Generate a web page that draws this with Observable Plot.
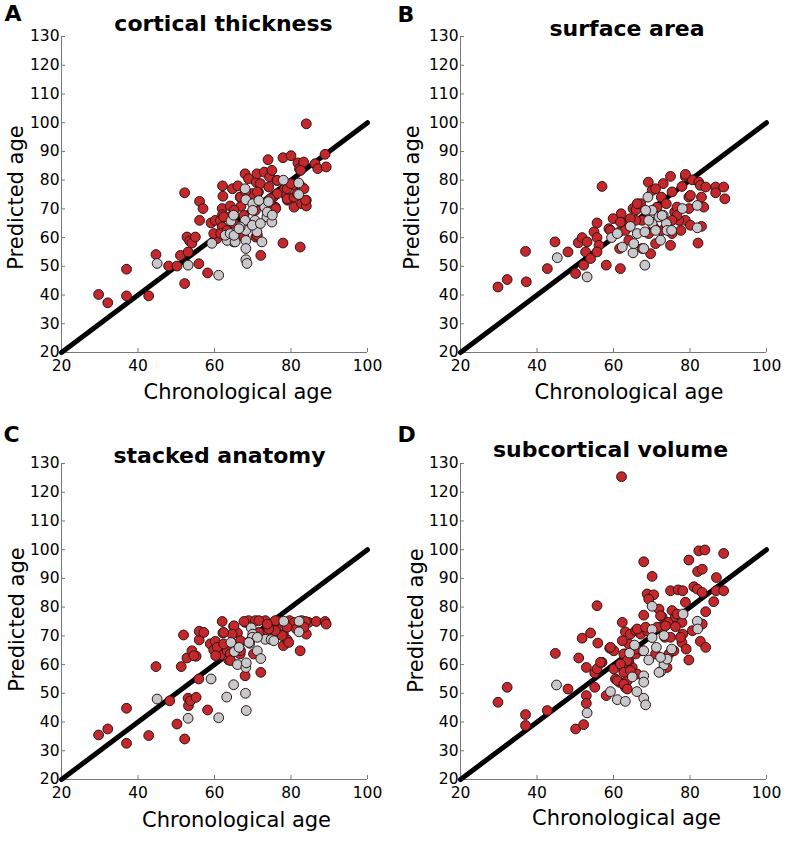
<!DOCTYPE html>
<html><head><meta charset="utf-8">
<script src="https://cdn.jsdelivr.net/npm/d3@7"></script>
<script src="https://cdn.jsdelivr.net/npm/@observablehq/plot@0.6"></script>
<style>
body{margin:0;background:#fff;}
#wrap{position:relative;width:791px;height:850px;overflow:hidden;background:#fff;}
#wrap > div{position:absolute;}
</style></head><body><div id="wrap"></div>
<script>
// ---- data: [chronological age, predicted age] ----
const xTicks = [20, 40, 60, 80, 100];
const yTicks = [20, 30, 40, 50, 60, 70, 80, 90, 100, 110, 120, 130];
const identity = [20, 100];
const panelLetters = ["A", "B", "C", "D"];
const panelTitles = ["cortical thickness", "surface area", "stacked anatomy", "subcortical volume"];
const xLabel = "Chronological age";
const yLabel = "Predicted age";

const thicknessRed = [[29.7,40.2],[32.1,37.3],[37,49],[37,39.7],[42.8,39.7],[44.7,54.1],[48,50.1],[50.2,50.1],[51.1,53.8],[52.2,44],[52.2,75.6],[52.8,60.2],[53.1,55],[53.5,58.8],[54.1,58.1],[55,60.2],[55.9,50.9],[56.1,72.6],[56.1,66],[57,70.1],[58.2,47.7],[59.1,65.1],[60.2,66],[60.6,59.6],[61.5,66],[62.1,78],[62.2,74.4],[62,70.1],[62.1,68],[62.6,62.5],[64.1,71],[64.7,77],[66.1,78],[66.7,74.1],[65,58.5],[66.9,70.9],[68,82.2],[68.9,80.5],[69.8,75.3],[70.9,79.3],[71.1,82.2],[71.5,75.9],[70.8,60.2],[72.1,53.8],[73,82.8],[74,87.1],[74.4,81.1],[75,83.4],[76.3,79.9],[75.4,74.1],[75.9,70.6],[74.6,68.3],[77.9,58.1],[77.9,87.8],[80,88.5],[78.3,77],[78.7,74.7],[79.1,73],[80.8,70.6],[80.7,78.2],[81.8,86],[82.2,84],[82.4,56.7],[83.3,86.3],[82.8,77.6],[82.8,71.8],[84,73],[84,71],[84,99.6],[86.3,85.7],[87,84],[88.9,89],[89.2,84.6],[59.8,61.4],[64.1,67.2],[62.4,67.2],[62,63.7],[61.6,61.4],[63.3,62.5],[67.7,60.2],[71.2,60.8],[72,78.8],[76.4,79.9],[79,77],[79.9,78.8],[83.4,77],[83.8,73],[79,73.5],[76.4,75.3],[75.5,70.6],[74.6,73.5],[66.8,74.1],[65.1,69.5],[65.1,64.9],[67.7,67.7],[76,70.1],[74.2,77.6],[71.2,75.9],[68.1,75.9],[80.8,74.1],[81.6,75.3],[70.7,69.5],[82.5,83.4]];
const thicknessGray = [[45,51],[53.1,50.4],[61.1,46.9],[59.3,58],[63.3,59],[64.3,65.8],[65,67.8],[62.8,60.8],[65.4,58.5],[68,77],[68.2,73.2],[68,66],[68.2,62.5],[68.2,59],[68.2,56.2],[68.2,52.3],[68.5,51],[70,71.8],[70,69.5],[70.6,66],[71.1,62],[72.4,58.5],[73.1,70.6],[73.7,67.2],[74.1,72.5],[75,65.4],[78,80],[82,79],[82,75],[66.7,63.7],[64.1,61.4],[65.1,60.8],[66.4,63.1],[69.9,64.3],[72,64.9],[71.6,72.9],[73.8,68.9],[75.1,67.8]];

const surfaceRed = [[29.8,42.8],[32.2,45.4],[37.2,44.6],[37,55.2],[42.7,49.2],[44.7,58.5],[48.1,55],[50.1,47.5],[50.8,58.2],[51.8,60],[52.2,50.4],[52.7,55],[53.1,58.5],[54,52.7],[54.9,62],[55.7,65.1],[55.7,60],[56.2,57.3],[55.7,55],[57,77.8],[58.1,50.4],[58.8,63.1],[59.9,66.6],[62,68.3],[61.6,62],[61.6,56.2],[61.8,49.2],[63.1,65.1],[64,59.1],[65.1,70.1],[65.9,69.7],[67.1,71.8],[67.5,66],[69.1,79.3],[70.1,76.4],[71,57.9],[70.5,63.7],[71.4,70.6],[72.5,74.1],[73,78.8],[73.8,71.8],[74.9,81.3],[75.3,75.9],[74.9,57.3],[76,68.9],[77.9,77.8],[78.8,81.3],[79.7,74.1],[79.7,70.1],[80.6,80.1],[78.8,66],[77.6,62.5],[82.3,79.3],[82.7,78.2],[83,74.1],[83.6,70.6],[82.1,58.1],[83,63.9],[86.7,77.6],[86.7,75.6],[88.8,77.6],[89.1,73.5],[72.7,62.5],[69.2,61.4],[65.8,66],[63.1,62.5],[77.1,66],[75.3,61.4],[69.7,54.4],[67.5,56.2],[76.6,70.6],[78.8,82],[84.1,77.6],[71,77],[80.1,74.7],[66.2,71.8],[59.2,62.5],[61.8,65.4],[64.4,66.6],[80.1,64.3],[76.6,67.7],[75.3,66],[74,63.7]];
const surfaceGray = [[45.3,53],[53.1,46.3],[59.5,60],[61,61.4],[62.3,56.7],[64.4,63.9],[65.1,54.7],[66.2,61.4],[67.9,56.2],[68.2,50.4],[68.2,62],[69,74.1],[69.7,68.3],[70.1,69.5],[70.1,64.9],[71,62.5],[72.3,59.1],[71.9,67.2],[73,67.8],[73.8,64.9],[74,62.5],[75.2,62.5],[78,70.1],[81.9,71.2],[81.9,63.4],[68.4,69.5],[69.2,66],[72.7,67.7],[65.3,57.9]];

const stackedRed = [[29.7,35.5],[32.1,37.6],[37,44.8],[37,32.6],[42.8,35.3],[44.7,59.3],[48.3,47.4],[50.2,39.3],[51.3,59.3],[52.2,34.1],[51.9,70.3],[52.8,62.3],[53.1,48.3],[53.2,45.7],[53.7,47.4],[54.1,64.8],[55.2,62.9],[55.2,48.6],[55.9,55],[56,68.6],[56,71.6],[57.2,71.2],[58.2,44.2],[58.9,67.2],[59.8,65.1],[60.2,68.1],[62,75],[62.2,71],[62,66],[62,63.3],[63.7,61.6],[65,73.3],[66,71],[68,74.7],[68,56.1],[68.9,75.3],[70.7,75.3],[72.1,57.3],[73.3,75.3],[74.6,74.1],[76.2,73.2],[78,70.6],[78,66.6],[78.9,74.7],[79,68.6],[79.6,75.3],[82.4,64.8],[82.8,75.3],[84,70.6],[84.6,74.7],[86.6,75],[88.9,75],[89.2,74.1],[65,66],[63.3,64.8],[66.7,67.7],[72.8,70.6],[75.5,69.5],[76.3,75.3],[80.9,74.7],[81.4,72.4],[70.2,63.7],[66.7,63.7],[64.1,63.7],[67.7,75],[71.6,75.3],[75.9,75.3],[83.8,75],[79,73],[77.7,70.1],[79.4,67.7],[75.9,71.8],[74.2,72.4],[71.6,71.2],[65.1,73.5],[64.6,70.6],[62.4,71.2],[60.7,66],[62.4,67.2],[60.3,63.1],[64.2,61.4],[66.8,64.8],[66.8,68.3],[54.6,63.1],[73.8,74.1],[83.4,73]];
const stackedGray = [[45,48],[53.1,41.3],[59.1,55],[61.1,41.5],[63.2,48.7],[65,53],[64.3,67.7],[65.2,64.5],[66,60],[68.1,50],[68.3,44],[68.2,59],[68.3,60.6],[69.2,67.4],[69.6,72.8],[70,70.6],[71.2,64.8],[72.1,62.1],[73.3,68.8],[74.8,68.7],[78.1,75.1],[82.1,75.1],[82.1,71.4],[69.9,69.5],[75.5,68.3],[69,67.7],[66.4,66],[71.2,69.5]];

const subcorticalRed = [[62.1,125.4],[29.8,46.9],[32.2,52.1],[37,42.6],[37,38.8],[42.7,44],[44.8,63.9],[48.1,51.5],[50.1,37.6],[50.9,62.3],[51.8,69.2],[52.2,39.1],[52.9,59],[52.9,49.2],[52.9,46.5],[54,71],[55.1,57.1],[55.1,52.1],[55.7,80.5],[55.9,67.5],[57,60.8],[55.7,58.5],[58.1,49.2],[59,65.7],[60.1,64.8],[60.1,58.5],[62.3,74.7],[63.1,71.4],[60.5,55],[61.6,53.8],[63.1,52.1],[63.6,54.4],[62.3,59],[63.1,63.7],[64,67.2],[64.4,70.6],[65.8,71.8],[65.8,63.7],[67.1,70.6],[67.9,95.8],[67.9,77.2],[68.8,71.8],[68.8,84.6],[70.1,90.7],[70.5,84.3],[69.2,82.8],[71.9,79.3],[72.7,76.6],[72.3,73],[73.4,69.5],[74.9,85.7],[74.3,74.7],[75.3,78.8],[76.2,76.6],[76.9,86],[78.1,85.7],[78.8,81.7],[77.9,74.7],[78.1,70.6],[77.9,67.7],[79,65.4],[79.7,61.6],[79.7,96.4],[80.6,71.8],[81,87.1],[82.3,99.6],[83.9,99.9],[82,92.4],[83.2,93.2],[81.9,86.3],[83.2,85.1],[83.2,74.1],[82.7,68.1],[84.1,66],[84.1,78.4],[86.2,81.9],[86.9,90.3],[86.8,85.7],[88.8,98.7],[88.8,85.7],[67.5,64.8],[64.9,59],[64,61.4],[66.2,56.7],[71,63.7],[74.5,63.7],[76.2,73.2],[66.2,72.4],[71.4,73],[68.4,73],[62.3,68.3],[59.2,66],[62.7,63.7],[63.6,61.4],[61.8,60.2],[61,54.4],[62.7,57.3],[62.7,53.2],[64.4,57.9],[63.6,51.5],[65.8,65.4],[74,59],[75.8,64.8],[74.9,69.5],[77.5,69.5],[73.6,73.5],[72.3,77],[76.6,77.6],[56.6,60.8]];
const subcorticalGray = [[45.1,52.9],[53.1,43.2],[59.2,50.6],[61,47.8],[63.1,47.2],[64.9,55.7],[64.2,64],[65.5,66.8],[66.1,50.6],[67.9,56.1],[67.9,53.9],[67.9,48.3],[68.4,46],[67.9,64.8],[69.2,61.6],[70.1,80.3],[70.1,72.2],[70.1,69.4],[71.2,66],[72.3,57.5],[73.2,70.1],[73.2,59.9],[74,61.9],[75.2,65.4],[78.2,77.6],[81.9,75.1],[82,72.4],[72.3,62.5],[71.9,57.3]];

const redSeries = [thicknessRed, surfaceRed, stackedRed, subcorticalRed];
const graySeries = [thicknessGray, surfaceGray, stackedGray, subcorticalGray];

// ---- layout (pixels) ----
const layout = [
  {left:0,   top:0,   width:395, height:420, mL:61, mR:28, mT:36, mB:68, letter:[4,20.5],  title:[223,30.5],   xl:[237.5,398], yl:[22,197]},
  {left:395, top:0,   width:396, height:420, mL:65, mR:25, mT:36, mB:68, letter:[2,21.5],  title:[231.5,35],   xl:[233.5,398], yl:[23.5,197]},
  {left:0,   top:420, width:395, height:430, mL:61, mR:28, mT:43, mB:71, letter:[3,21.7],  title:[219,42.5],   xl:[236,406],   yl:[23.5,199]},
  {left:395, top:420, width:396, height:430, mL:65, mR:25, mT:43, mB:71, letter:[2,21.7],  title:[215,36],     xl:[231,404],   yl:[27,200]}
];

const RED = "#c4282c", GRAY = "#c6c8cb", EDGE = "#2e1414", AXIS = "#777";
const FONT = "DejaVu Sans";

function label(txt, L, pos, opts) {
  return Plot.text([txt], Object.assign({
    text: d => d, frameAnchor: "top-left",
    dx: pos[0] - L.mL, dy: pos[1] - L.mT,
    lineAnchor: "bottom", fill: "black", fontFamily: FONT
  }, opts));
}

const wrap = document.getElementById("wrap");
layout.forEach((L, i) => {
  const chart = Plot.plot({
    width: L.width, height: L.height,
    marginLeft: L.mL, marginRight: L.mR, marginTop: L.mT, marginBottom: L.mB,
    x: {domain: [20, 100]},
    y: {domain: [20, 130]},
    style: {fontFamily: FONT, background: "white", overflow: "visible"},
    marks: [
      Plot.ruleX([20], {stroke: AXIS, strokeWidth: 1}),
      Plot.ruleY([20], {stroke: AXIS, strokeWidth: 1}),
      Plot.axisX(xTicks, {tickSize: 4, dy: -4, tickFormat: () => "", stroke: AXIS, label: null}),
      Plot.axisY(yTicks, {tickSize: 4, dx: 4, tickFormat: () => "", stroke: AXIS, label: null}),
      Plot.axisX(xTicks, {tickSize: 0, tickPadding: 7, fontSize: 15.5, fill: "black", label: null}),
      Plot.axisY(yTicks, {tickSize: 0, tickPadding: 2, fontSize: 15.5, fill: "black", label: null}),
      Plot.line(identity, {x: d => d, y: d => d, stroke: "black", strokeWidth: 5}),
      Plot.dot(redSeries[i], {x: d => d[0], y: d => d[1], r: 4.9, fill: RED, stroke: EDGE, strokeWidth: 1}),
      Plot.dot(graySeries[i], {x: d => d[0], y: d => d[1], r: 4.9, fill: GRAY, stroke: EDGE, strokeWidth: 1}),
      label(panelLetters[i], L, L.letter, {textAnchor: "start", fontSize: 22, fontWeight: "bold"}),
      label(panelTitles[i], L, L.title, {textAnchor: "middle", fontSize: 22, fontWeight: "bold"}),
      label(xLabel, L, L.xl, {textAnchor: "middle", fontSize: 21}),
      label(yLabel, L, L.yl, {textAnchor: "middle", fontSize: 21, rotate: -90})
    ]
  });
  const div = document.createElement("div");
  div.style.left = L.left + "px";
  div.style.top = L.top + "px";
  div.appendChild(chart);
  wrap.appendChild(div);
});
</script></body></html>
